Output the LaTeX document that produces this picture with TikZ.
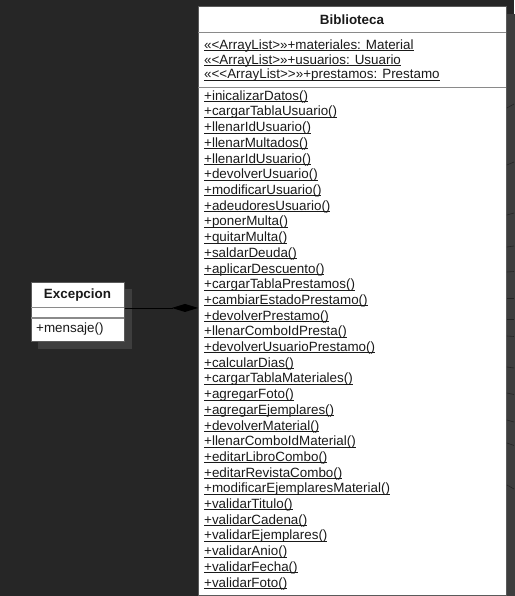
\documentclass[tikz,border=0pt]{standalone}
\usepackage{fontspec}
\setmainfont{Liberation Sans}
\usetikzlibrary{arrows.meta}
\definecolor{bg}{HTML}{262626}
\definecolor{shadowc}{HTML}{3E3E3E}
\definecolor{borderc}{HTML}{5A5A5A}
\definecolor{sepc}{HTML}{8A8A8A}
\definecolor{txtc}{HTML}{1A1A1A}
\newcommand\ulx[1]{\setbox0\hbox{#1}\rlap{\rule[-1.7pt]{\wd0}{0.8pt}}\box0}
\tikzset{
  classbox/.style={draw=borderc, line width=0.9pt, fill=white, inner sep=0pt, anchor=north west},
  shadowbox/.style={fill=shadowc, draw=none, inner sep=0pt, anchor=north west},
  sepline/.style={draw=sepc, line width=1.6pt},
  title/.style={font=\fontsize{13.4}{15}\selectfont\bfseries, text=txtc, inner sep=0pt},
  member/.style={font=\fontsize{13.4}{15}\selectfont, text=txtc, inner sep=0pt, anchor=base west},
  assoc/.style={draw=black, line width=0.8pt, -{Diamond[length=26pt,width=8pt]}},
  offlink/.style={draw=black!85, line width=0.6pt}
}
\begin{document}
\begin{tikzpicture}[x=1pt,y=-1pt]
\useasboundingbox (0,0) rectangle (514,596);
\fill[bg] (0,0) rectangle (514,596);
% Biblioteca
\node[shadowbox, minimum width=310pt, minimum height=592pt] (bibsh) at (206,14) {};
\node[classbox, minimum width=308pt, minimum height=589pt] (bib) at (198,6) {};
\draw[sepline] (198,32.5) -- (506,32.5);
\draw[sepline] (198,87.5) -- (506,87.5);
\node[title] (bibt) at (352,19.5) {Biblioteca};
\node[member] (a1) at (204,49.5) {\ulx{«<ArrayList>»+materiales: Material}};
\node[member] (a2) at (204,64.2) {\ulx{«<ArrayList>»+usuarios: Usuario}};
\node[member] (a3) at (204,78.9) {\ulx{«<{}<ArrayList>{}>»+prestamos: Prestamo}};
\foreach [count=\k from 0] \m in {inicalizarDatos,cargarTablaUsuario,llenarIdUsuario,llenarMultados,llenarIdUsuario,devolverUsuario,modificarUsuario,adeudoresUsuario,ponerMulta,quitarMulta,saldarDeuda,aplicarDescuento,cargarTablaPrestamos,cambiarEstadoPrestamo,devolverPrestamo,llenarComboIdPresta,devolverUsuarioPrestamo,calcularDias,cargarTablaMateriales,agregarFoto,agregarEjemplares,devolverMaterial,llenarComboIdMaterial,editarLibroCombo,editarRevistaCombo,modificarEjemplaresMaterial,validarTitulo,validarCadena,validarEjemplares,validarAnio,validarFecha,validarFoto}
  \node[member] (m\k) at (204,100.3+15.7*\k) {\ulx{+\m()}};
% off-picture links on the right
\foreach \ya/\yb [count=\j] in {108/104,165/162,215/213,247/246,272/271.5,298/298,319/319,336/336.5,367/368,393/394.5,420/422,443/445.5,485/489}
  {\coordinate (r\j) at (bib.east |- 0,\ya); \draw[offlink] (r\j) -- (514,\yb);}
% Excepcion
\node[shadowbox, minimum width=94pt, minimum height=60pt] (excsh) at (38,289) {};
\node[classbox, minimum width=93pt, minimum height=59pt] (exc) at (31,282) {};
\draw[sepline] (31,307.5) -- (124,307.5);
\draw[sepline] (31,317.7) -- (124,317.7);
\node[title] (exct) at (77.5,295) {Excepcion};
\node[member] (em1) at (36,332.5) {+mensaje()};
% composition
\draw[assoc] ([yshift=4pt]exc.east) -- ([yshift=4pt]exc.east -| bib.west);
\end{tikzpicture}
\end{document}
